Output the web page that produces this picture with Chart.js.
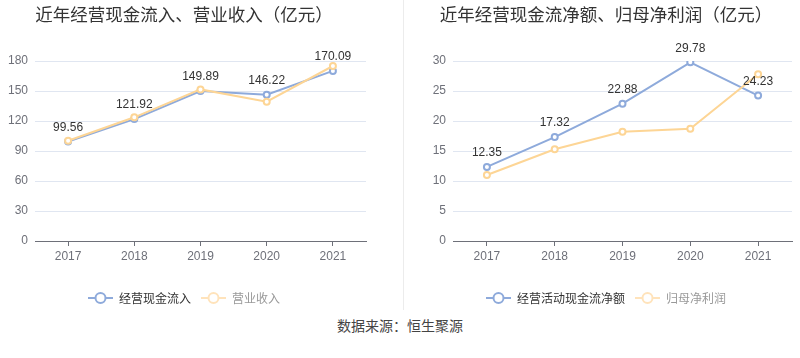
<!DOCTYPE html>
<html><head><meta charset="utf-8">
<script src="https://cdn.jsdelivr.net/npm/chart.js@4/dist/chart.umd.min.js"></script>
<style>
html,body{margin:0;padding:0;background:#fff;width:800px;height:358px;overflow:hidden;}
#c1{position:absolute;left:0;top:0;}
#c2{position:absolute;left:420px;top:0;}
#divider{position:absolute;left:403px;top:0;width:1px;height:310px;background:#ececec;}
#src{position:absolute;left:0;width:800px;top:315px;text-align:center;font:14px "Noto Sans CJK SC",sans-serif;color:#444;}
</style></head>
<body>
<div id="divider"></div>
<canvas id="c1" width="372" height="314"></canvas>
<canvas id="c2" width="380" height="314"></canvas>
<div id="src">数据来源：恒生聚源</div>
<script>
const years = ['2017','2018','2019','2020','2021'];
const cashInflow = [99.56, 121.92, 149.89, 146.22, 170.09];
const revenue = [100.2, 123.7, 151.6, 139.3, 175.0];
const netCashFlow = [12.35, 17.32, 22.88, 29.78, 24.23];
const netProfit = [11.0, 15.3, 18.2, 18.7, 27.8];

const BLUE = '#8eaadb';
const ORANGE = '#fdd595';
const FONT = '"Liberation Sans", Arial, sans-serif';
const CJK = '"Noto Sans CJK SC", sans-serif';

function marker(color){
  const c = document.createElement('canvas');
  c.width = 25; c.height = 14;
  const x = c.getContext('2d');
  x.strokeStyle = color; x.lineWidth = 2;
  x.beginPath(); x.moveTo(0,7); x.lineTo(25,7); x.stroke();
  x.beginPath(); x.arc(12.5,7,5,0,Math.PI*2); x.fillStyle='#fff'; x.fill(); x.stroke();
  return c;
}

const valueLabels = {
  id:'valueLabels',
  afterDatasetsDraw(chart){
    const ctx = chart.ctx;
    const meta = chart.getDatasetMeta(0);
    const data = chart.data.datasets[0].data;
    ctx.save();
    ctx.font = '12px ' + FONT;
    ctx.fillStyle = '#333';
    ctx.textAlign = 'center';
    ctx.textBaseline = 'middle';
    meta.data.forEach((el,i)=>{
      ctx.fillText(data[i].toFixed(2), el.x, el.y - 14);
    });
    ctx.restore();
  }
};

function makeChart(id, title, names, s1, s2, max, step, yWidth, padRight){
  const legendColors = [BLUE, '#ffe3bb'];
  const textColors = ['#333', '#999'];
  return new Chart(document.getElementById(id), {
    type:'line',
    data:{labels:years, datasets:[
      {label:names[0], data:s1, borderColor:BLUE, backgroundColor:'#fff', borderWidth:2,
       pointRadius:3, pointBorderWidth:2, pointBackgroundColor:'#fff', pointBorderColor:BLUE, order:2, tension:0},
      {label:names[1], data:s2, borderColor:ORANGE, backgroundColor:'#fff', borderWidth:2,
       pointRadius:3, pointBorderWidth:2, pointBackgroundColor:'#fff', pointBorderColor:ORANGE, order:1, tension:0}
    ]},
    options:{
      responsive:false, animation:false, devicePixelRatio:1,
      layout:{padding:{left:0,right:padRight,top:0,bottom:0}},
      plugins:{
        tooltip:{enabled:false},
        title:{display:true, text:title, color:'#333', font:{family:CJK, size:17.5, weight:'normal'}, padding:{top:4, bottom:36}},
        legend:{position:'bottom', labels:{
          usePointStyle:true, pointStyleWidth:25, boxHeight:12, padding:10,
          font:{family:CJK, size:12},
          generateLabels(chart){
            return chart.data.datasets.map((d,i)=>({
              text:d.label, pointStyle:marker(legendColors[i]), fontColor:textColors[i],
              fillStyle:'#fff', strokeStyle:legendColors[i], lineWidth:0, hidden:false, datasetIndex:i
            }));
          }
        }}
      },
      scales:{
        x:{offset:true,
           grid:{display:true, drawOnChartArea:false, offset:false, tickLength:5, tickColor:'#6e7079'},
           border:{display:true, color:'#6e7079', width:1},
           ticks:{color:'#6e7079', font:{family:FONT, size:12}, padding:3},
           afterFit(s){ s.height = 41; }
        },
        y:{min:0, max:max,
           ticks:{stepSize:step, color:'#6e7079', font:{family:FONT, size:12}, padding:7},
           grid:{color:'#e0e6f1', drawTicks:false, tickLength:0},
           border:{display:false},
           afterFit(s){ s.width = yWidth; }
        }
      }
    },
    plugins:[valueLabels]
  });
}

makeChart('c1','近年经营现金流入、营业收入（亿元）',['经营现金流入','营业收入'], cashInflow, revenue, 180, 30, 35, 4);
makeChart('c2','近年经营现金流净额、归母净利润（亿元）',['经营活动现金流净额','归母净利润'], netCashFlow, netProfit, 30, 5, 33, 8);
</script>
</body></html>
